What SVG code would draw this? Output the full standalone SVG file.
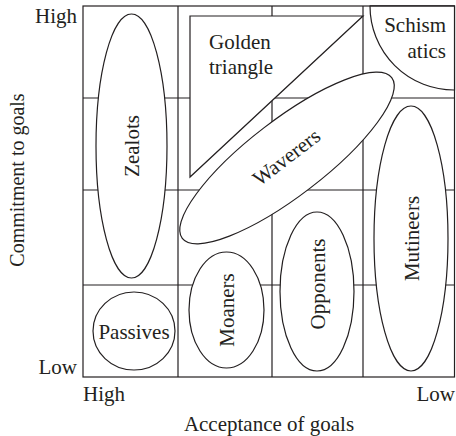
<svg xmlns="http://www.w3.org/2000/svg" width="456" height="436" viewBox="0 0 456 436">
  <style>
    .ln { stroke: #231f20; stroke-width: 1.2; fill: none; }
    .sh { stroke: #231f20; stroke-width: 1.2; fill: #ffffff; }
    text { font-family: "Liberation Serif", "Times New Roman", serif; font-size: 21px; fill: #231f20; }
    .mid { text-anchor: middle; }
    .end { text-anchor: end; }
    .ylab { font-size: 20px; }
  </style>
  <rect width="456" height="436" fill="#ffffff"/>

  <!-- 4x4 grid of the acceptance / commitment matrix -->
  <g id="grid">
    <rect class="ln" x="83" y="6" width="371.5" height="371"/>
    <line class="ln" x1="178" y1="6" x2="178" y2="377"/>
    <line class="ln" x1="272" y1="6" x2="272" y2="377"/>
    <line class="ln" x1="363" y1="6" x2="363" y2="377"/>
    <line class="ln" x1="83" y1="98" x2="454.5" y2="98"/>
    <line class="ln" x1="83" y1="190" x2="454.5" y2="190"/>
    <line class="ln" x1="83" y1="285" x2="454.5" y2="285"/>
  </g>

  <!-- regions: white fills hide the grid lines behind them -->
  <g id="golden-triangle">
    <polygon class="sh" points="190,16 363,16 190,177"/>
    <text x="209" y="49">Golden</text>
    <text x="209" y="74">triangle</text>
  </g>
  <g id="schismatics">
    <path class="sh" d="M 370 6 A 84 84 0 0 0 454.5 90 L 454.5 6 Z"/>
    <line class="ln" x1="370" y1="6" x2="454.5" y2="6"/>
    <text class="end" x="446" y="32">Schism</text>
    <text class="end" x="446" y="58">atics</text>
  </g>
  <g id="zealots">
    <ellipse class="sh" cx="131.5" cy="146" rx="35.5" ry="132"/>
    <text class="mid" transform="translate(138.5,146) rotate(-90)">Zealots</text>
  </g>
  <g id="waverers">
    <ellipse class="sh" cx="0" cy="0" rx="132" ry="38" transform="translate(287,158) rotate(-37.5)"/>
    <text class="mid" transform="translate(287,158) rotate(-37.5)" y="6">Waverers</text>
  </g>
  <g id="passives">
    <ellipse class="sh" cx="134" cy="331" rx="41" ry="39"/>
    <text class="mid" x="134" y="339">Passives</text>
  </g>
  <g id="moaners">
    <ellipse class="sh" cx="226.5" cy="310" rx="37.5" ry="58"/>
    <text class="mid" transform="translate(234,310) rotate(-90)">Moaners</text>
  </g>
  <g id="opponents">
    <ellipse class="sh" cx="317" cy="291.5" rx="37" ry="79.5"/>
    <text class="mid" transform="translate(325,284) rotate(-90)">Opponents</text>
  </g>
  <g id="mutineers">
    <ellipse class="sh" cx="411" cy="238.5" rx="37" ry="132.5"/>
    <text class="mid" transform="translate(419,238.5) rotate(-90)">Mutineers</text>
  </g>

  <!-- axis labels -->
  <g id="axes">
    <text class="end" x="77" y="23">High</text>
    <text class="end" x="77" y="374">Low</text>
    <text x="83" y="401">High</text>
    <text class="end" x="455" y="401">Low</text>
    <text class="mid" x="269" y="431">Acceptance of goals</text>
    <text class="mid ylab" transform="translate(24,180) rotate(-90)">Commitment to goals</text>
  </g>
</svg>
